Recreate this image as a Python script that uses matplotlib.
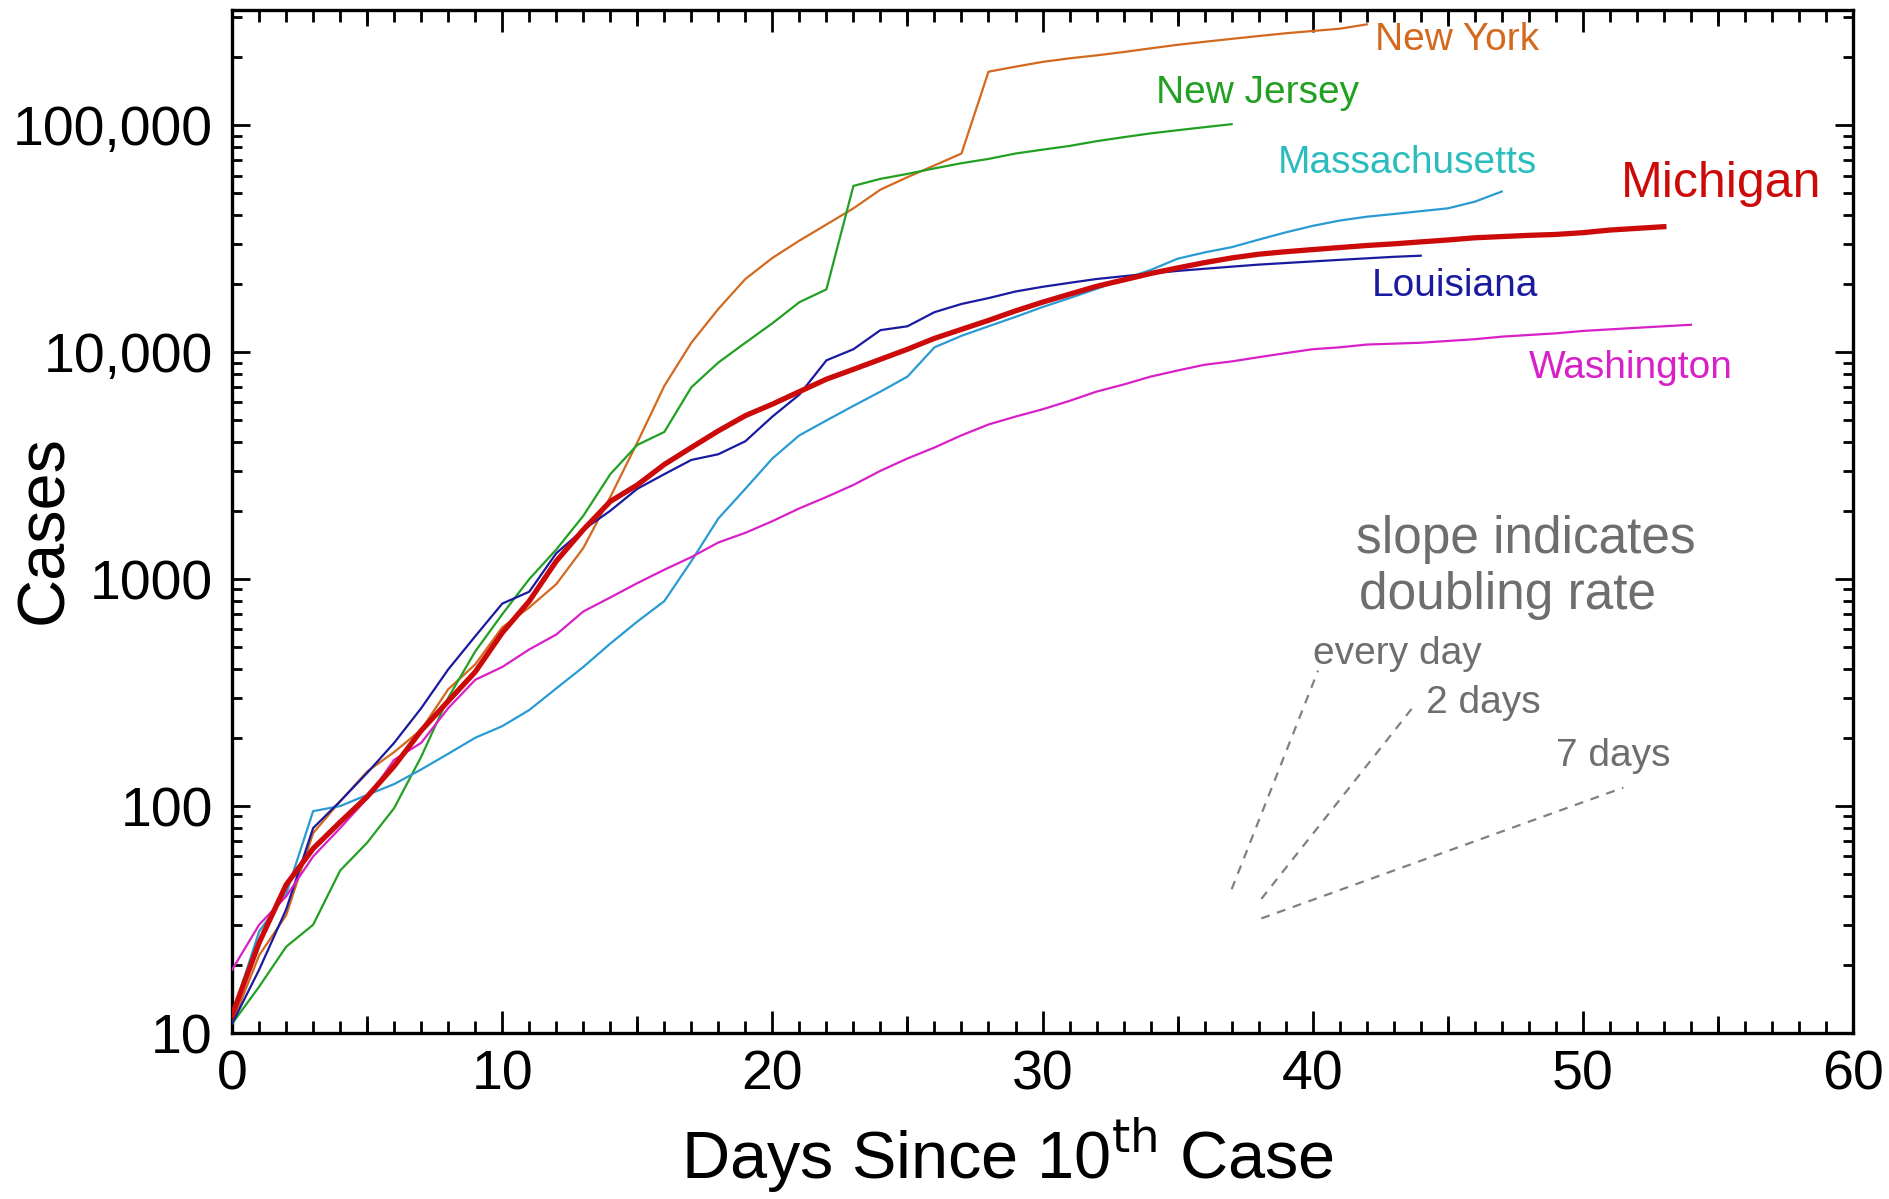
import numpy as np
import matplotlib
matplotlib.use("Agg")
import matplotlib.pyplot as plt
import matplotlib.transforms as mtransforms
from matplotlib.ticker import MultipleLocator, LogLocator, NullFormatter

plt.rcParams['font.family'] = ['Liberation Sans', 'DejaVu Sans']

# cases by days since 10th case
new_york = [11, 22, 33, 76, 105, 142, 173, 217, 327, 421, 613, 750, 950, 1370, 2300,
            4000, 7100, 11000, 15500, 21000, 26000, 31000, 36500, 43000, 52000, 59000,
            66500, 75000, 172000, 181000, 190000, 197000, 203000, 210000, 218000,
            226000, 233000, 240000, 247000, 254000, 260000, 266000, 278000]
new_jersey = [11, 16, 24, 30, 52, 69, 98, 165, 300, 480, 700, 1000, 1350, 1900, 2900,
              3900, 4450, 7000, 9000, 11000, 13400, 16600, 18900, 54000, 58000, 61000,
              64500, 68000, 71000, 75000, 78000, 81000, 85000, 88500, 92000, 95000,
              98000, 101000]
massachusetts = [12, 28, 41, 95, 100, 112, 125, 145, 170, 200, 225, 265, 330, 410, 520,
                 650, 800, 1200, 1850, 2500, 3400, 4300, 5000, 5800, 6700, 7800, 10500,
                 11800, 13000, 14300, 15800, 17300, 19000, 21000, 23000, 25800, 27500,
                 29000, 31300, 33700, 36000, 38000, 39500, 40600, 41800, 43000, 46000,
                 51000]
michigan = [12, 25, 45, 65, 85, 110, 150, 215, 290, 390, 580, 800, 1200, 1650, 2200,
            2600, 3200, 3800, 4500, 5250, 5900, 6700, 7600, 8400, 9300, 10300, 11500,
            12600, 13800, 15200, 16600, 18000, 19500, 20800, 22200, 23500, 24800,
            26000, 27000, 27700, 28300, 28900, 29500, 30000, 30600, 31200, 31900,
            32300, 32700, 33000, 33600, 34500, 35100, 35700]
louisiana = [11, 19, 35, 80, 105, 140, 190, 270, 400, 560, 780, 880, 1300, 1650, 2000,
             2500, 2900, 3350, 3550, 4050, 5200, 6500, 9200, 10300, 12500, 13000, 15000,
             16300, 17300, 18500, 19400, 20200, 21000, 21600, 22200, 22800, 23300,
             23800, 24300, 24700, 25100, 25500, 25900, 26300, 26600]
washington = [19, 30, 40, 60, 80, 108, 160, 190, 270, 360, 410, 490, 570, 720, 830, 960,
              1100, 1250, 1450, 1600, 1800, 2050, 2300, 2600, 3000, 3400, 3800, 4300,
              4800, 5200, 5600, 6100, 6700, 7200, 7800, 8300, 8800, 9100, 9500, 9900,
              10300, 10500, 10800, 10900, 11000, 11200, 11400, 11700, 11900, 12100,
              12400, 12600, 12800, 13000, 13200]

# doubling-time guide lines: doubling period, start day, start cases, end day
guide_period = [1, 2, 7]
guide_x0 = [37.0, 38.1, 38.1]
guide_y0 = [43, 39, 32]
guide_x1 = [40.2, 43.7, 51.5]

fig = plt.figure(figsize=(18.9, 11.99), dpi=100)
ax = fig.add_axes([0.1228, 0.1384, 0.8576, 0.8536])

series = [
    (new_york, "#D2691E", 1.6, "New York", 42.3, 238000, "#D2691E", 28),
    (new_jersey, "#22A022", 1.6, "New Jersey", 34.2, 139000, "#22A022", 28),
    (massachusetts, "#2A9BD2", 1.6, "Massachusetts", 38.7, 68200, "#2BBDBD", 28),
    (louisiana, "#1A1AA0", 1.6, "Louisiana", 42.2, 19600, "#1A1AA0", 28),
    (washington, "#D820C8", 1.6, "Washington", 48.0, 8530, "#D820C8", 28),
    (michigan, "#CC0A0A", 3.8, "Michigan", 51.4, 54800, "#CC0A0A", 36),
]
for vals, col, lw, name, tx, ty, tcol, fs in series:
    days = np.arange(len(vals))
    z = 5 if name == "Michigan" else 3
    ax.plot(days, vals, color=col, lw=lw, zorder=z, solid_joinstyle='round')
    ax.text(tx, ty, name, color=tcol, fontsize=fs, va='center', ha='left')

for p, x0, y0, x1 in zip(guide_period, guide_x0, guide_y0, guide_x1):
    y1 = y0 * 2 ** ((x1 - x0) / p)
    ax.plot([x0, x1], [y0, y1], color="#808080", lw=1.6, ls=(0, (4, 3.5)))

gray = "#6E6E6E"
ax.text(41.6, 1500, "slope indicates", color=gray, fontsize=37, va='center')
ax.text(41.7, 847, "doubling rate", color=gray, fontsize=37, va='center')
ax.text(40.0, 466, "every day", color=gray, fontsize=28, va='center')
ax.text(44.2, 285, "2 days", color=gray, fontsize=28, va='center')
ax.text(49.0, 166, "7 days", color=gray, fontsize=28, va='center')

ax.set_yscale('log')
ax.set_xlim(0, 60)
ax.set_ylim(10, 323000)

ax.set_yticks([10, 100, 1000, 10000, 100000])
ax.set_yticklabels(["10", "100", "1000", "10,000", "100,000"])
ax.yaxis.set_minor_locator(LogLocator(base=10, subs=np.arange(2, 10)))
ax.yaxis.set_minor_formatter(NullFormatter())
ax.xaxis.set_major_locator(MultipleLocator(10))
ax.xaxis.set_minor_locator(MultipleLocator(1))

ax.tick_params(which='both', direction='in', top=True, right=True, width=2,
               labelsize=40, colors='black')
ax.tick_params(axis='x', which='major', length=16, pad=12)
ax.tick_params(axis='x', which='minor', length=8.5)
ax.tick_params(axis='y', which='major', length=13, pad=14)
ax.tick_params(axis='y', which='minor', length=7.5)
for s in ax.spines.values():
    s.set_linewidth(2.4)

# medium ticks at the 5-day marks, bottom and top
trans = mtransforms.blended_transform_factory(ax.transData, ax.transAxes)
mid_len = 12 * 100 / 72 / (0.8536 * 1199)
for xm in range(5, 60, 10):
    ax.plot([xm, xm], [0, mid_len], color='black', lw=2, transform=trans,
            clip_on=False, solid_capstyle='butt')
    ax.plot([xm, xm], [1, 1 - mid_len], color='black', lw=2, transform=trans,
            clip_on=False, solid_capstyle='butt')

fig.text(0.533, 0.037, r"Days Since 10$^{\rm th}$ Case", fontsize=48,
         ha='center', va='center')
fig.text(0.024, 0.558, "Cases", fontsize=48, rotation=90, ha='center', va='center')

fig.savefig("out.png", dpi=100, facecolor='white')
